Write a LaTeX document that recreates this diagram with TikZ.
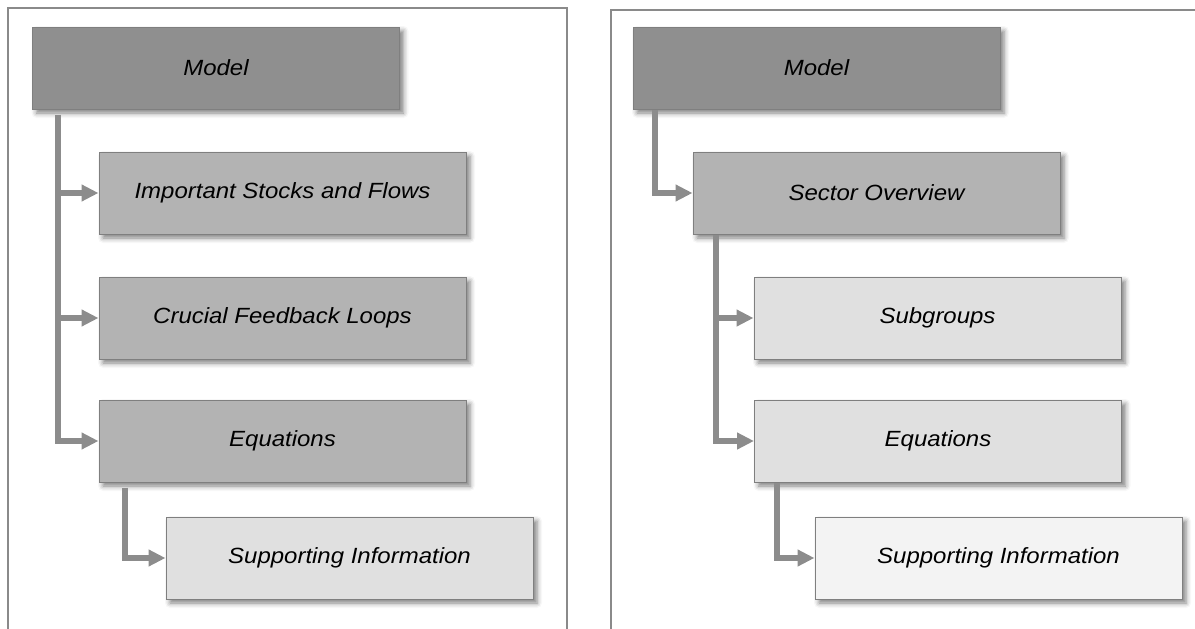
\documentclass[tikz,border=0pt]{standalone}
\usepackage{fontspec}
\usepackage{graphicx}
\setmainfont{Liberation Sans}
\usetikzlibrary{arrows.meta,shadows.blur,calc}

\definecolor{lvlA}{HTML}{8F8F8F}
\definecolor{lvlB}{HTML}{B3B3B3}
\definecolor{lvlC}{HTML}{E0E0E0}
\definecolor{lvlD}{HTML}{F3F3F3}
\definecolor{edgegray}{HTML}{7F7F7F}
\definecolor{linkgray}{HTML}{8C8C8C}
\definecolor{framegray}{HTML}{8A8A8A}

\newcommand{\boxlabel}[1]{\scalebox{1.09}[1]{\itshape #1}}

\tikzset{
  card/.style={rectangle, draw=edgegray, line width=1pt,
    minimum width=367pt, minimum height=82pt, inner sep=0pt,
    font=\fontsize{22}{26}\selectfont, text=black,
    blur shadow={shadow xshift=4pt, shadow yshift=-4pt,
      shadow blur radius=5pt, shadow opacity=50}},
  link/.style={draw=linkgray, line width=6pt,
    -{Triangle[length=17pt,width=16pt]}},
  frame/.style={draw=framegray, line width=1.5pt}
}

\begin{document}
\begin{tikzpicture}[x=1pt,y=-1pt]
  \useasboundingbox (0,0) rectangle (1195,629);

  % panel outlines, open at the bottom
  \draw[frame] (8,629) -- (8,8) -- (567,8) -- (567,629);
  \draw[frame] (611,629) -- (611,10) -- (1196,10);

  % left hierarchy
  \node[card, fill=lvlA] (lm)  at (216,68)    {\boxlabel{Model}};
  \node[card, fill=lvlB] (lsf) at (282.5,193) {\boxlabel{Important Stocks and Flows}};
  \node[card, fill=lvlB] (lfl) at (282.5,318) {\boxlabel{Crucial Feedback Loops}};
  \node[card, fill=lvlB] (leq) at (282.5,441) {\boxlabel{Equations}};
  \node[card, fill=lvlC] (lsi) at (349.5,558) {\boxlabel{Supporting Information}};

  \coordinate (ltop) at ($(lm.south west)+(25.5,5)$);
  \coordinate (ltop2) at ($(leq.south west)+(26,5)$);
  \draw[link] (ltop) |- (leq.west);
  \draw[link] (lsf.west -| ltop) -- (lsf.west);
  \draw[link] (lfl.west -| ltop) -- (lfl.west);
  \draw[link] (ltop2) |- (lsi.west);

  % right hierarchy
  \node[card, fill=lvlA] (rm)  at (816.5,68)  {\boxlabel{Model}};
  \node[card, fill=lvlB] (rso) at (876.5,193) {\boxlabel{Sector Overview}};
  \node[card, fill=lvlC] (rsg) at (937.5,318) {\boxlabel{Subgroups}};
  \node[card, fill=lvlC] (req) at (938,441)   {\boxlabel{Equations}};
  \node[card, fill=lvlD] (rsi) at (998.5,558) {\boxlabel{Supporting Information}};

  \coordinate (rtop)  at ($(rm.south west)+(22,0)$);
  \coordinate (rtop2) at ($(rso.south west)+(23,0)$);
  \coordinate (rtop3) at ($(req.south west)+(22.5,0)$);
  \draw[link] (rtop) |- (rso.west);
  \draw[link] (rtop2) |- (req.west);
  \draw[link] (rsg.west -| rtop2) -- (rsg.west);
  \draw[link] (rtop3) |- (rsi.west);
\end{tikzpicture}
\end{document}
